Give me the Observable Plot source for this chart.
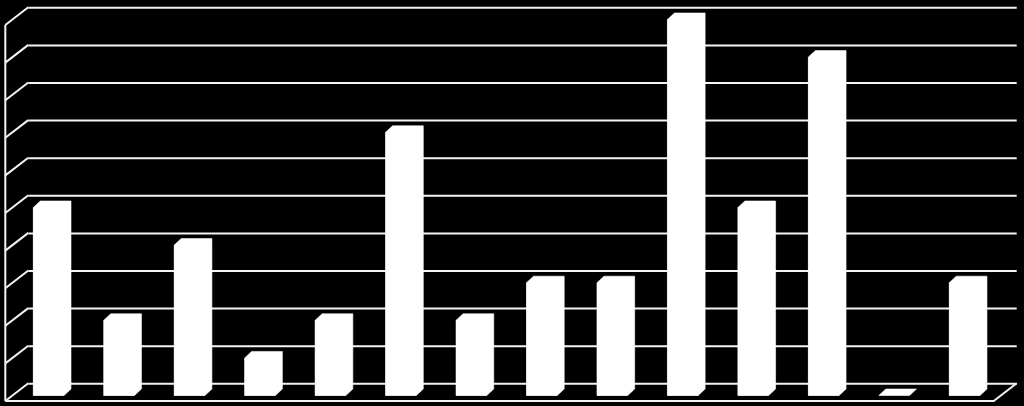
<!DOCTYPE html>
<html>
<head>
<meta charset="utf-8">
<script src="https://cdn.jsdelivr.net/npm/d3@7"></script>
<script src="https://cdn.jsdelivr.net/npm/@observablehq/plot@0.6"></script>
<style>
  html, body { margin: 0; padding: 0; background: #000; overflow: hidden; }
  #chart svg { display: block; background: #000; }
</style>
</head>
<body>
<div id="chart"></div>
<script>
// ---- data ----
const categories = ["1", "2", "3", "4", "5", "6", "7", "8", "9", "10", "11", "12", "13", "14"];
const values = [5, 2, 4, 1, 2, 7, 2, 3, 3, 10, 5, 9, 0, 3];
const gridTicks = [0, 1, 2, 3, 4, 5, 6, 7, 8, 9, 10];

const data = categories.map((c, i) => ({cat: c, value: values[i]}));

// ---- 3D styling constants (pixels) ----
const WALL_DX = 23;    // side-wall depth, horizontal
const WALL_DY = 17.7;  // side-wall depth, vertical
const GRID_DY = -5.7;  // back wall sits slightly above bar back edges
const BEV_X = 7;       // bar bevel
const BEV_Y = 6.5;
const PAD_INNER = 0.465;
const LINE = "#f4f4f4";

function bandwidthOf(x) {
  if (typeof x.bandwidth === "function") return x.bandwidth();
  if (typeof x.bandwidth === "number") return x.bandwidth;
  return (x(categories[1]) - x(categories[0])) * (1 - PAD_INNER);
}

// side wall + floor
function walls(index, scales, vals, dims) {
  const {y} = scales;
  const g = d3.create("svg:g")
    .attr("fill", "none")
    .attr("stroke", LINE)
    .attr("stroke-width", 2);
  const left = dims.marginLeft;
  const right = dims.width - dims.marginRight;
  const yTop = y(d3.max(gridTicks)) + GRID_DY;
  const yBot = y(0) + GRID_DY;
  for (const t of gridTicks) {
    const yy = y(t) + GRID_DY;
    g.append("line")
      .attr("x1", left - WALL_DX).attr("y1", yy + WALL_DY)
      .attr("x2", left).attr("y2", yy);
  }
  g.append("line")
    .attr("x1", left - WALL_DX).attr("y1", yTop + WALL_DY)
    .attr("x2", left - WALL_DX).attr("y2", yBot + WALL_DY);
  g.append("path")
    .attr("d", `M${left - WALL_DX},${yBot + WALL_DY}L${right - WALL_DX},${yBot + WALL_DY}L${right},${yBot}`);
  return g.node();
}

// bevelled bars
function bars3d(index, scales) {
  const {x, y} = scales;
  const bw = bandwidthOf(x);
  const g = d3.create("svg:g").attr("fill", "#fff").attr("stroke", "#fff").attr("stroke-width", 0.6);
  data.forEach(d => {
    const L = x(d.cat), R = L + bw;
    const yv = y(d.value), y0 = y(0);
    const pts = [
      [L, y0 + BEV_Y], [L, yv + BEV_Y], [L + BEV_X, yv],
      [R, yv], [R, y0], [R - BEV_X, y0 + BEV_Y]
    ];
    g.append("polygon").attr("points", pts.map(p => p.join(",")).join(" "));
  });
  return g.node();
}

const chart = Plot.plot({
  width: 1024,
  height: 406,
  marginLeft: 28.3,
  marginRight: 7.3,
  marginTop: 13,
  marginBottom: 17,
  style: {background: "#000", color: "#fff"},
  x: {type: "band", domain: categories, paddingInner: PAD_INNER, paddingOuter: 0.2465, align: 0.144, round: false, axis: null},
  y: {domain: [0, 10], axis: null},
  marks: [
    Plot.ruleY(gridTicks, {dy: GRID_DY, stroke: LINE, strokeWidth: 2}),
    walls,
    Plot.barY(data, {x: "cat", y: "value", fill: "#fff", insetRight: BEV_X, dy: BEV_Y}),
    bars3d
  ]
});

document.getElementById("chart").appendChild(chart);
</script>
</body>
</html>
